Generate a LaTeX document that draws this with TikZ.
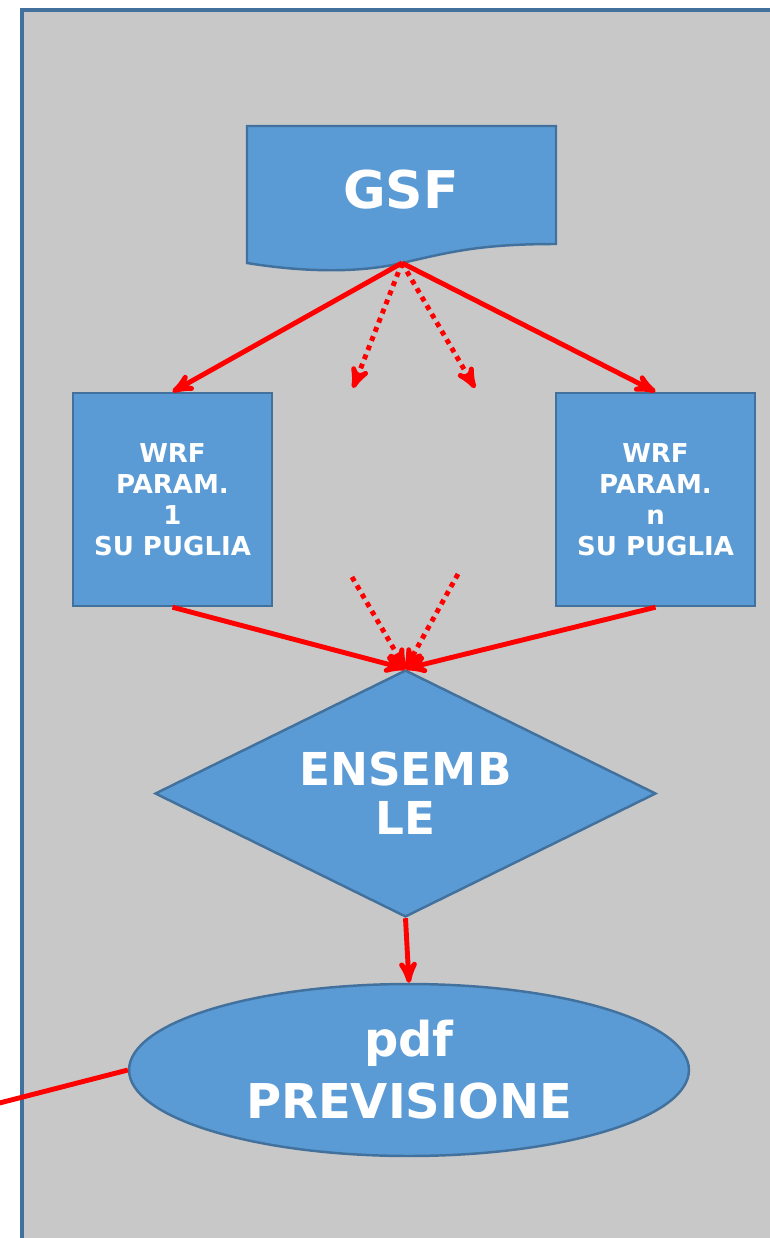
\documentclass[tikz,border=0pt]{standalone}
\usepackage{fontspec}
\setsansfont{DejaVu Sans}
\usetikzlibrary{arrows,shapes}
\definecolor{panel}{HTML}{C8C8C8}
\definecolor{boxfill}{HTML}{5B9BD5}
\definecolor{boxline}{HTML}{41719C}
\tikzset{blk/.style={draw=boxline,fill=boxfill,line width=1.4pt,text=white,align=center,inner sep=0pt}}
\tikzset{wrf/.style={blk,rectangle,minimum width=3.98cm,minimum height=4.26cm,font=\sffamily\bfseries\fontsize{14.8}{17.6}\selectfont}}
\tikzset{flow/.style={draw=red,line width=2.8pt,-stealth'}}
\tikzset{flowdot/.style={flow,dash pattern=on 2.8pt off 2.8pt}}

\begin{document}
\begin{tikzpicture}[x=0.02cm,y=-0.02cm]
\useasboundingbox (0,0) rectangle (770,1238);
\clip (0,0) rectangle (770,1238);
\draw[boxline,fill=panel,line width=2pt] (22,10) rectangle (800,1260);
% GSF document shape
\draw[blk] (247,126) -- (556,126) -- (556,244) .. controls (480,244) and (450,252) .. (402,263)
  .. controls (350,275) and (290,270) .. (247,263) -- cycle;
\node (gsf) at (401,190) [text=white,font=\sffamily\bfseries\fontsize{29.6}{32}\selectfont] {GSF};
\coordinate (gsfb) at (402,263);
\node (wrfa) at (172.5,499.5) [wrf] {WRF\\PARAM.\\1\\SU PUGLIA};
\node (wrfn) at (655.5,499.5) [wrf] {WRF\\PARAM.\\n\\SU PUGLIA};
\node (ens) at (405.5,793.5) [blk,diamond,aspect=2,minimum width=10.02cm,minimum height=4.94cm,
  font=\sffamily\bfseries\fontsize{25.8}{27.9}\selectfont] {ENSEMB\\LE};
\node (prev) at (409,1070) [blk,ellipse,minimum width=11.2cm,minimum height=3.44cm,
  font=\sffamily\bfseries\fontsize{27.3}{35.3}\selectfont] {pdf\\PREVISIONE};
% connectors
\coordinate (da) at (353,388);
\coordinate (db) at (475,388);
\coordinate (dc) at (352,577);
\coordinate (dd) at (458,574);
\coordinate (out) at (-20,1108);
\draw[flow] (gsfb) -- (wrfa.north);
\draw[flow] (gsfb) -- (wrfn.north);
\draw[flowdot] (gsfb) -- (da);
\draw[flowdot] (gsfb) -- (db);
\draw[flow] (wrfa.south) -- (ens.north);
\draw[flow] (wrfn.south) -- (ens.north);
\draw[flowdot] (dc) -- (ens.north);
\draw[flowdot] (dd) -- (ens.north);
\draw[flow] (ens.south) -- (prev.north);
\draw[red,line width=2.8pt] (prev.west) -- (out);
\end{tikzpicture}
\end{document}
